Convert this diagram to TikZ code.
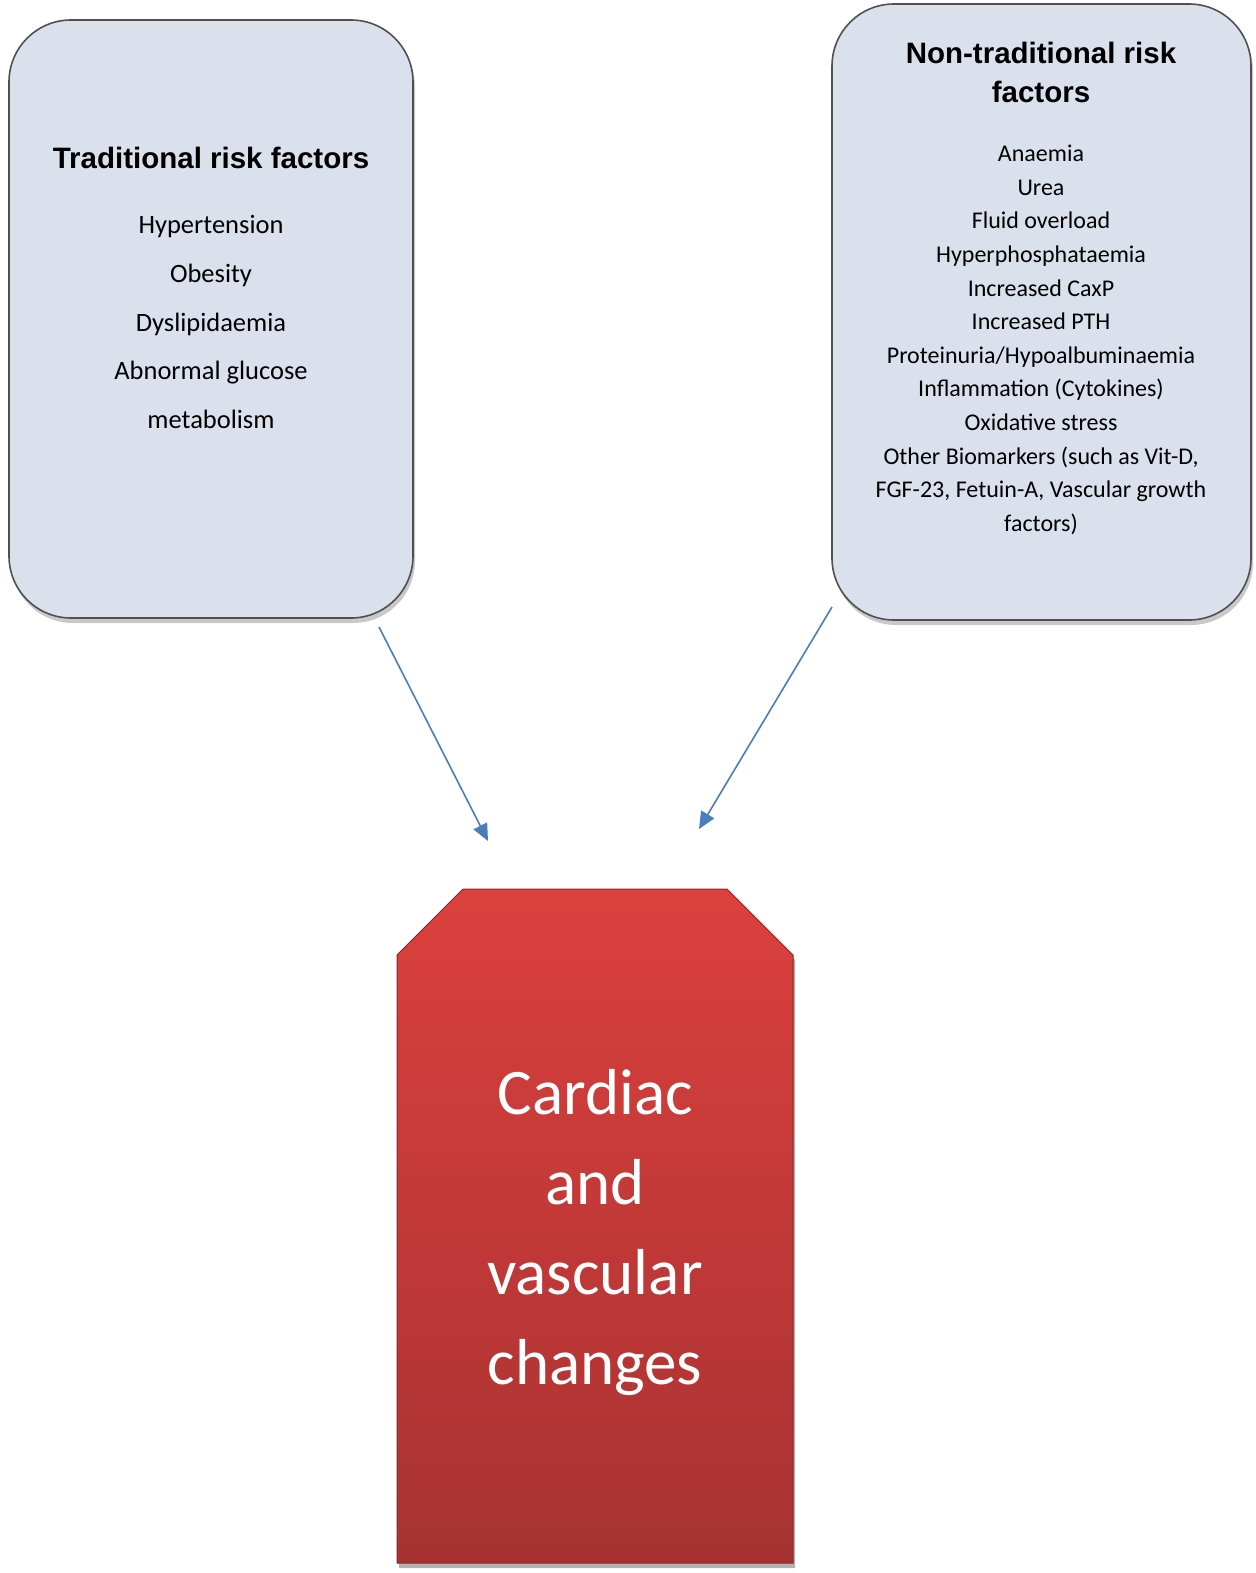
\documentclass[tikz,border=0pt]{standalone}
\usepackage{fontspec}
\setmainfont{Carlito}
\newfontfamily\titlefont{Liberation Sans}
\usetikzlibrary{arrows.meta,shadows}
\definecolor{boxfill}{HTML}{DAE1ED}
\definecolor{boxline}{HTML}{505050}
\definecolor{redtop}{HTML}{DC403D}
\definecolor{redbot}{HTML}{A73232}
\definecolor{arrowblue}{HTML}{4A7EBB}
\tikzset{
  riskbox/.style={draw=boxline, line width=1.6pt, fill=boxfill, rounded corners=62pt,
    drop shadow={shadow xshift=2pt, shadow yshift=-5pt, opacity=.3, fill=black!70}},
  titletext/.style={font={\titlefont\bfseries\fontsize{29.5}{39}\selectfont}, align=center, inner sep=0pt},
  itemtext/.style={align=center, inner sep=0pt},
  conn/.style={draw=arrowblue, line width=1.6pt, -{Triangle[length=17pt,width=15pt]}},
}
\begin{document}
\begin{tikzpicture}[x=1pt,y=-1pt]
\useasboundingbox (0,0) rectangle (1255,1573);
% boxes
\node[riskbox, minimum width=404pt, minimum height=598pt] (left) at (211,319) {};
\node[riskbox, minimum width=419pt, minimum height=616pt] (right) at (1041.5,312) {};
% left texts
\node[titletext] (ltitle) at (211,158) {Traditional risk factors};
\node[itemtext, font={\fontsize{26.5}{48.7}\selectfont}] (litems) at (211,322)
  {Hypertension\\Obesity\\Dyslipidaemia\\Abnormal glucose\\metabolism};
% right texts
\node[titletext] (rtitle) at (1041,72) {Non-traditional risk\\factors};
\node[itemtext, font={\fontsize{24}{33.6}\selectfont}] (ritems) at (1041,340)
  {Anaemia\\Urea\\Fluid overload\\Hyperphosphataemia\\Increased CaxP\\Increased PTH\\Proteinuria/Hypoalbuminaemia\\Inflammation (Cytokines)\\Oxidative stress\\Other Biomarkers (such as Vit-D,\\FGF-23, Fetuin-A, Vascular growth\\factors)};
% red box
\fill[black, opacity=.3] (399,960) -- (465,894) -- (729,894) -- (795,960) -- (795,1568) -- (399,1568) -- cycle;
\shade[top color=redtop, bottom color=redbot] (397,955) -- (463,889) -- (727,889) -- (793,955) -- (793,1563) -- (397,1563) -- cycle;
\draw[redbot!80!black, line width=1pt] (397,955) -- (463,889) -- (727,889) -- (793,955) -- (793,1563) -- (397,1563) -- cycle;
\node[itemtext, text=white, font={\fontsize{65}{90}\selectfont}] (cardiac) at (595,1233)
  {Cardiac\\and\\vascular\\changes};
% arrows
\coordinate (a1s) at (379,627);
\coordinate (a1e) at (488,841);
\coordinate (a2s) at (832,607);
\coordinate (a2e) at (699,829);
\draw[conn] (a1s) -- (a1e);
\draw[conn] (a2s) -- (a2e);
\end{tikzpicture}
\end{document}
